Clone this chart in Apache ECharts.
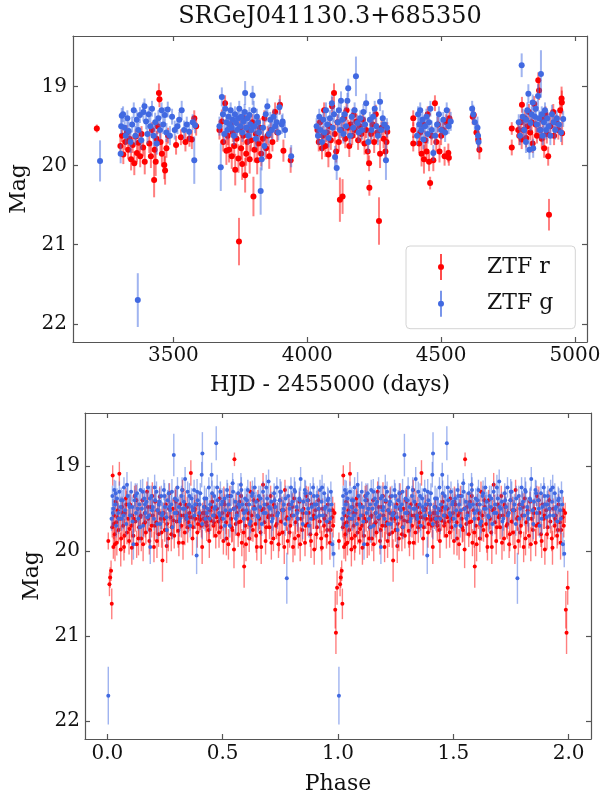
<!DOCTYPE html>
<html>
<head>
<meta charset="utf-8">
<script src="https://cdn.jsdelivr.net/npm/echarts@6/dist/echarts.min.js"></script>
<style>html,body{margin:0;padding:0;background:#fff}#c{width:608px;height:796px}</style>
</head>
<body>
<div id="c"></div>
<script>
// ---------- DATA ----------
const titleText = 'SRGeJ041130.3+685350';
const hjdTicks = [3500, 4000, 4500, 5000];
const magTicks = [19, 20, 21, 22];
const phaseTicks = [0, 0.5, 1, 1.5, 2];

// light curve, ZTF r: [HJD-2455000, mag, err]
const lcR = [
[3214,19.53,0.05],
[3302,19.75,0.10],[3308,19.62,0.08],[3313,19.86,0.12],[3320,19.70,0.10],[3326,19.58,0.09],[3331,19.80,0.12],[3336,19.66,0.10],[3342,19.92,0.14],[3348,19.74,0.10],[3354,19.97,0.15],[3359,19.63,0.09],[3364,19.84,0.12],[3370,19.71,0.10],[3376,19.88,0.14],[3381,19.60,0.10],[3387,19.77,0.11],[3393,19.95,0.16],
[3410,19.72,0.12],[3416,19.88,0.15],[3420,19.55,0.10],[3428,20.18,0.22],[3430,19.80,0.14],[3434,19.95,0.18],[3437,19.66,0.10],[3441,19.50,0.10],[3446,19.08,0.12],[3448,19.16,0.10],[3452,19.70,0.12],[3457,19.85,0.16],[3466,19.99,0.18],[3469,20.06,0.18],[3474,19.78,0.12],[3480,19.62,0.10],
[3510,19.74,0.12],[3528,19.64,0.10],[3545,19.70,0.12],[3560,19.66,0.10],[3569,19.67,0.12],[3578,19.40,0.10],[3585,19.50,0.12],
[3672,19.55,0.12],[3681,19.44,0.15],[3686,19.70,0.12],[3693,19.21,0.10],[3698,19.81,0.18],[3703,19.62,0.12],[3708,19.80,0.16],[3713,19.48,0.10],[3718,19.88,0.16],[3722,19.58,0.12],[3727,19.75,0.14],[3731,20.05,0.20],[3736,19.66,0.12],[3743,19.91,0.18],[3745,20.96,0.30],[3749,19.52,0.10],[3753,19.78,0.14],[3757,19.98,0.20],[3761,19.62,0.12],[3765,19.40,0.10],[3768,20.12,0.22],[3772,19.85,0.15],[3776,19.70,0.12],[3780,19.55,0.10],[3785,19.92,0.18],[3790,19.68,0.14],[3795,19.45,0.10],[3799,20.39,0.25],[3803,19.80,0.16],[3808,19.60,0.12],[3813,19.93,0.18],[3818,19.72,0.14],[3823,19.52,0.12],[3828,19.85,0.16],[3834,19.66,0.12],[3840,19.40,0.10],[3846,19.78,0.14],[3852,19.62,0.12],[3858,19.88,0.16],[3864,19.55,0.10],[3870,19.70,0.12],[3880,19.32,0.12],[3888,19.58,0.12],[3898,19.23,0.12],[3911,19.81,0.14],[3938,19.93,0.16],
[4038,19.55,0.12],[4043,19.70,0.12],[4048,19.45,0.10],[4055,19.78,0.14],[4058,19.62,0.12],[4063,19.30,0.10],[4068,19.75,0.14],[4073,19.58,0.12],[4079,19.86,0.16],[4083,19.50,0.10],[4088,19.68,0.12],[4093,19.25,0.12],[4100,19.08,0.12],[4103,19.60,0.12],[4108,19.82,0.14],[4113,19.45,0.10],[4118,19.70,0.12],[4122,20.43,0.28],[4128,19.55,0.10],[4132,20.39,0.22],[4137,19.40,0.10],[4142,19.66,0.12],[4147,19.30,0.12],[4152,19.52,0.10],[4157,19.75,0.14],[4162,19.48,0.10],[4168,19.62,0.12],[4173,19.36,0.10],[4178,19.55,0.10],[4184,19.44,0.10],[4190,19.68,0.12],[4196,19.50,0.10],[4202,19.60,0.12],[4208,19.42,0.10],[4214,19.72,0.14],[4220,19.55,0.10],[4226,19.82,0.16],[4231,19.97,0.10],[4232,20.28,0.10],[4238,19.60,0.12],[4244,19.48,0.10],[4250,19.70,0.14],[4256,19.35,0.12],[4262,19.58,0.12],[4268,20.70,0.30],[4272,19.85,0.18],[4278,19.52,0.10],[4285,19.66,0.12],[4292,19.82,0.10],[4296,19.70,0.12],[4299,19.57,0.12],
[4396,19.40,0.10],[4396,19.55,0.10],[4396,19.72,0.10],[4418,19.72,0.12],[4422,19.58,0.10],[4427,19.85,0.16],[4434,19.48,0.10],[4436,19.92,0.18],[4441,19.68,0.12],[4446,19.82,0.14],[4450,19.35,0.10],[4455,19.95,0.12],[4459,20.22,0.08],[4464,19.62,0.12],[4471,19.93,0.14],[4477,19.21,0.10],[4482,19.70,0.12],[4488,19.48,0.10],[4494,19.82,0.14],[4500,19.62,0.12],[4507,19.55,0.10],[4513,19.88,0.12],[4519,19.45,0.10],[4527,19.84,0.12],[4529,19.90,0.10],[4531,19.40,0.12],
[4618,19.38,0.10],[4622,19.36,0.10],[4632,19.58,0.12],[4639,19.67,0.12],[4643,19.80,0.12],
[4764,19.53,0.08],[4764,19.77,0.10],[4788,19.55,0.10],[4792,19.62,0.12],[4798,19.45,0.10],[4801,19.67,0.12],[4802,19.23,0.10],[4808,19.55,0.10],[4813,19.40,0.10],[4818,19.65,0.12],[4823,19.50,0.10],[4828,19.32,0.10],[4833,19.58,0.10],[4838,19.45,0.12],[4842,19.72,0.12],[4848,19.22,0.10],[4853,19.48,0.12],[4858,19.62,0.10],[4863,18.92,0.10],[4866,19.05,0.12],[4870,19.55,0.12],[4876,19.66,0.12],[4880,19.42,0.10],[4885,19.78,0.12],[4890,19.35,0.10],[4895,19.60,0.12],[4900,19.88,0.12],[4903,20.62,0.20],[4908,19.50,0.12],[4919,19.32,0.10],[4922,19.62,0.12],[4930,19.45,0.10],[4938,19.55,0.12],[4945,19.30,0.12],[4950,19.15,0.15],[4951,19.20,0.15],[4952,19.59,0.15]
];

// light curve, ZTF g: [HJD-2455000, mag, err]
const lcG = [
[3226,19.94,0.26],[3367,21.70,0.34],
[3303,19.85,0.12],[3305,19.50,0.10],[3307,19.37,0.10],[3312,19.35,0.10],[3318,19.52,0.10],[3322,19.62,0.12],[3328,19.40,0.10],[3333,19.56,0.12],[3340,19.70,0.14],[3346,19.48,0.10],[3352,19.30,0.10],[3358,19.62,0.12],[3363,19.42,0.12],[3369,19.55,0.10],[3375,19.36,0.10],[3380,19.68,0.12],[3388,19.32,0.12],[3392,19.25,0.10],[3398,19.44,0.10],[3403,19.60,0.12],[3408,19.35,0.10],[3414,19.50,0.12],[3420,19.28,0.10],[3426,19.62,0.14],[3432,19.45,0.12],[3438,19.72,0.14],[3444,19.40,0.10],[3450,19.55,0.12],[3456,19.30,0.10],[3462,19.48,0.12],[3468,19.36,0.10],[3474,19.58,0.12],[3479,19.29,0.10],[3487,19.62,0.12],[3495,19.38,0.10],[3505,19.55,0.12],[3515,19.50,0.10],[3522,19.42,0.10],[3531,19.30,0.12],[3540,19.55,0.12],[3550,19.48,0.10],[3559,19.57,0.12],[3572,19.45,0.10],[3578,19.93,0.30],[3581,19.49,0.10],
[3672,19.50,0.12],[3677,20.02,0.30],[3681,19.13,0.12],[3685,19.35,0.10],[3690,19.60,0.12],[3694,19.28,0.10],[3698,19.45,0.10],[3702,19.55,0.12],[3706,19.38,0.10],[3710,19.48,0.10],[3714,19.30,0.10],[3718,19.52,0.12],[3722,19.42,0.10],[3726,19.62,0.12],[3730,19.35,0.10],[3734,19.46,0.10],[3738,19.55,0.10],[3742,19.40,0.10],[3746,19.28,0.10],[3750,19.50,0.10],[3754,19.38,0.10],[3758,19.58,0.12],[3762,19.44,0.10],[3766,19.32,0.10],[3768,19.08,0.15],[3772,19.52,0.10],[3776,19.40,0.10],[3780,19.62,0.12],[3784,19.36,0.10],[3788,19.48,0.10],[3792,19.55,0.10],[3796,19.11,0.12],[3800,19.30,0.12],[3804,19.50,0.10],[3808,19.66,0.12],[3812,19.38,0.10],[3816,19.45,0.10],[3820,19.58,0.12],[3826,20.32,0.30],[3830,19.92,0.14],[3835,19.52,0.10],[3840,19.75,0.14],[3845,19.35,0.10],[3851,19.25,0.10],[3856,19.60,0.12],[3862,19.42,0.10],[3868,19.55,0.12],[3874,19.38,0.10],[3880,19.50,0.10],[3886,19.45,0.12],[3892,19.58,0.10],[3896,19.26,0.10],[3905,19.48,0.12],[3908,19.44,0.10],[3917,19.55,0.10],[3940,19.88,0.14],
[4035,19.50,0.10],[4040,19.62,0.12],[4045,19.38,0.10],[4050,19.55,0.10],[4055,19.70,0.12],[4060,19.42,0.10],[4065,19.58,0.12],[4070,19.30,0.10],[4075,19.48,0.10],[4080,19.65,0.12],[4085,19.40,0.10],[4092,19.21,0.10],[4095,19.52,0.12],[4100,19.35,0.10],[4104,19.89,0.14],[4110,20.03,0.15],[4114,19.45,0.10],[4118,19.30,0.10],[4122,19.55,0.12],[4126,19.18,0.12],[4130,19.42,0.10],[4135,19.60,0.12],[4140,19.35,0.10],[4145,19.50,0.10],[4150,19.18,0.10],[4153,19.02,0.12],[4160,19.62,0.12],[4166,19.38,0.10],[4172,19.52,0.12],[4177,19.30,0.10],[4182,18.87,0.25],[4187,19.46,0.10],[4192,19.58,0.12],[4198,19.40,0.10],[4204,19.55,0.12],[4210,19.32,0.10],[4216,19.48,0.10],[4220,19.21,0.12],[4228,19.70,0.14],[4234,19.42,0.10],[4240,19.55,0.12],[4246,19.38,0.10],[4252,19.28,0.10],[4258,19.50,0.12],[4264,19.62,0.12],[4272,19.19,0.12],[4276,19.55,0.10],[4282,19.40,0.10],[4288,19.48,0.10],[4294,19.93,0.25],[4298,19.52,0.12],
[4410,19.62,0.12],[4414,19.35,0.10],[4418,19.48,0.10],[4422,19.30,0.10],[4426,19.55,0.12],[4430,19.42,0.10],[4434,19.67,0.12],[4440,19.50,0.10],[4445,19.38,0.10],[4450,19.60,0.12],[4455,19.45,0.10],[4460,19.28,0.10],[4465,19.55,0.12],[4471,19.84,0.10],[4478,19.62,0.12],[4485,19.48,0.10],[4492,19.35,0.10],[4500,19.55,0.12],[4508,19.42,0.10],[4515,19.58,0.12],[4521,19.30,0.10],[4528,19.50,0.10],[4536,19.44,0.12],
[4616,19.28,0.10],[4620,19.35,0.12],[4626,19.45,0.10],[4636,19.52,0.14],[4638,19.62,0.15],[4640,19.70,0.12],
[4790,19.45,0.10],[4795,19.62,0.12],[4801,18.73,0.15],[4805,19.38,0.10],[4810,19.55,0.12],[4817,19.70,0.14],[4818,19.42,0.10],[4822,19.30,0.10],[4826,19.09,0.12],[4830,19.80,0.12],[4834,19.46,0.10],[4838,19.35,0.10],[4842,19.20,0.10],[4844,19.78,0.12],[4850,19.38,0.10],[4854,19.28,0.10],[4858,19.48,0.10],[4862,19.12,0.15],[4866,19.40,0.10],[4870,19.55,0.12],[4873,18.84,0.30],[4876,19.35,0.10],[4880,19.62,0.12],[4884,19.45,0.10],[4888,19.30,0.10],[4892,19.55,0.12],[4897,19.40,0.10],[4902,19.50,0.10],[4908,19.62,0.12],[4914,19.35,0.12],[4920,19.45,0.10],[4926,19.55,0.12],[4932,19.40,0.10],[4940,19.48,0.10],[4948,19.58,0.12],[4956,19.41,0.10]
];

// phase-folded, ZTF r: [phase, mag, err]
const phR = [
[0.004,19.88,0.10],[0.009,20.39,0.14],[0.012,20.31,0.12],[0.016,20.23,0.12],[0.019,20.62,0.18],[0.021,19.72,0.12],[0.023,19.11,0.12],[0.026,19.95,0.14],[0.029,19.58,0.12],[0.032,19.80,0.14],[0.035,19.42,0.12],[0.038,19.66,0.12],[0.041,19.90,0.15],[0.045,19.52,0.12],[0.049,19.75,0.14],[0.052,19.09,0.14],[0.056,19.62,0.12],[0.060,19.85,0.15],[0.064,19.48,0.12],[0.068,19.70,0.14],[0.072,19.95,0.16],[0.076,19.55,0.12],[0.080,19.38,0.12],[0.085,19.78,0.14],[0.090,19.62,0.12],[0.094,19.88,0.16],[0.099,19.45,0.12],[0.104,19.70,0.14],[0.108,19.58,0.12],[0.113,19.82,0.15],[0.118,19.35,0.12],[0.122,19.65,0.12],[0.127,19.92,0.16],[0.132,19.50,0.12],[0.137,19.72,0.14],[0.142,19.60,0.12],[0.147,19.85,0.15],[0.152,19.40,0.12],[0.157,19.68,0.14],[0.162,19.55,0.12],[0.167,19.78,0.14],[0.172,19.30,0.12],[0.177,19.62,0.12],[0.182,19.88,0.16],[0.187,19.48,0.12],[0.192,19.70,0.14],[0.197,19.58,0.12],[0.202,19.95,0.18],[0.207,19.42,0.12],[0.212,19.66,0.14],[0.217,19.52,0.12],[0.222,19.80,0.15],[0.227,19.36,0.12],[0.232,19.62,0.12],[0.239,20.11,0.25],[0.244,19.55,0.12],[0.249,19.75,0.14],[0.254,19.45,0.12],[0.259,19.68,0.14],[0.264,19.85,0.15],[0.269,19.32,0.12],[0.274,19.60,0.12],[0.279,19.72,0.14],[0.284,19.50,0.12],[0.290,19.82,0.15],[0.295,19.40,0.12],[0.300,19.65,0.14],[0.305,19.55,0.12],[0.310,19.90,0.16],[0.316,19.45,0.12],[0.321,19.70,0.14],[0.326,19.28,0.12],[0.331,19.58,0.12],[0.336,19.78,0.15],[0.341,19.62,0.12],[0.346,19.48,0.12],[0.351,19.66,0.12],[0.356,19.55,0.12],[0.362,19.08,0.15],[0.367,19.60,0.12],[0.372,19.72,0.14],[0.377,19.52,0.12],[0.382,19.62,0.12],[0.388,19.45,0.12],[0.393,19.68,0.12],[0.398,19.58,0.12],[0.403,19.63,0.12],[0.408,19.70,0.14],[0.413,19.55,0.12],[0.418,19.62,0.12],[0.423,19.48,0.12],[0.428,19.66,0.12],[0.434,19.60,0.12],[0.439,19.75,0.14],[0.444,19.52,0.12],[0.449,19.64,0.12],[0.455,19.42,0.12],[0.460,19.70,0.14],[0.465,19.58,0.12],[0.470,19.82,0.15],[0.476,19.50,0.12],[0.481,19.65,0.12],[0.487,19.38,0.12],[0.492,19.72,0.14],[0.498,19.55,0.12],[0.503,19.88,0.16],[0.509,19.45,0.12],[0.514,19.66,0.14],[0.520,19.58,0.12],[0.525,19.92,0.18],[0.531,19.35,0.12],[0.536,19.62,0.12],[0.542,19.75,0.14],[0.547,19.50,0.12],[0.551,18.92,0.08],[0.556,19.68,0.14],[0.562,19.55,0.12],[0.567,19.80,0.15],[0.572,19.42,0.12],[0.578,19.65,0.14],[0.583,19.90,0.16],[0.588,19.52,0.12],[0.593,20.18,0.25],[0.598,19.70,0.14],[0.604,19.45,0.12],[0.609,19.62,0.12],[0.615,19.85,0.16],[0.620,19.30,0.12],[0.626,19.58,0.12],[0.631,19.75,0.14],[0.637,19.48,0.12],[0.642,19.68,0.14],[0.648,19.95,0.16],[0.653,19.40,0.12],[0.659,19.62,0.12],[0.664,19.78,0.15],[0.670,19.52,0.12],[0.675,19.22,0.14],[0.681,19.66,0.14],[0.686,19.88,0.16],[0.692,19.45,0.12],[0.697,19.60,0.12],[0.703,19.72,0.14],[0.708,19.35,0.12],[0.714,19.58,0.12],[0.720,19.85,0.15],[0.725,19.48,0.12],[0.731,19.70,0.14],[0.737,19.55,0.12],[0.742,19.92,0.16],[0.748,19.40,0.12],[0.753,19.65,0.14],[0.759,19.78,0.15],[0.765,19.52,0.12],[0.770,19.28,0.12],[0.776,19.62,0.14],[0.782,19.88,0.16],[0.787,19.45,0.12],[0.793,19.70,0.14],[0.799,19.58,0.12],[0.805,19.95,0.18],[0.810,19.38,0.12],[0.816,19.66,0.14],[0.822,19.52,0.12],[0.828,19.82,0.15],[0.833,19.42,0.12],[0.839,19.62,0.12],[0.845,19.75,0.14],[0.851,19.50,0.12],[0.857,19.90,0.16],[0.862,19.35,0.12],[0.868,19.68,0.14],[0.874,19.55,0.12],[0.880,19.80,0.15],[0.886,19.45,0.12],[0.892,19.62,0.12],[0.897,19.98,0.18],[0.903,19.52,0.12],[0.909,19.72,0.14],[0.915,19.40,0.12],[0.921,19.65,0.14],[0.927,19.85,0.15],[0.933,19.50,0.12],[0.939,19.70,0.14],[0.944,19.58,0.12],[0.950,19.82,0.15],[0.956,19.45,0.12],[0.962,19.66,0.12],[0.968,19.75,0.14],[0.974,19.60,0.12],[0.979,19.70,0.14],[0.985,19.55,0.12],[0.988,20.69,0.22],[0.991,20.96,0.25],[0.996,20.43,0.20],
[0.027,19.68,0.18],[0.033,19.92,0.20],[0.044,19.60,0.18],[0.058,19.98,0.20],[0.066,19.55,0.16],[0.074,19.82,0.20],[0.083,19.45,0.16],[0.096,19.74,0.18],[0.106,19.96,0.20],[0.115,19.62,0.16],[0.125,19.40,0.18],[0.135,19.85,0.20],[0.145,19.58,0.16],[0.155,19.92,0.20],[0.164,19.66,0.18],[0.175,19.48,0.16],[0.185,19.75,0.20],[0.195,19.35,0.16],[0.205,19.70,0.18],[0.215,19.88,0.20],[0.225,19.55,0.16],[0.235,19.78,0.18],[0.247,19.62,0.16],[0.257,19.94,0.20],[0.267,19.50,0.18],[0.277,19.80,0.20],[0.287,19.64,0.16],[0.297,19.42,0.18],[0.307,19.76,0.20],[0.318,19.58,0.16],[0.328,19.90,0.20],[0.338,19.45,0.16],[0.348,19.72,0.18],[0.358,19.60,0.16],[0.369,19.85,0.20],[0.379,19.50,0.16],[0.390,19.78,0.18],[0.400,19.62,0.16],[0.411,19.95,0.20],[0.421,19.55,0.16],[0.431,19.70,0.18],[0.442,19.88,0.20],[0.452,19.48,0.16],[0.462,19.66,0.18],[0.473,19.60,0.16],[0.484,19.78,0.18],[0.494,19.62,0.16],[0.505,19.42,0.18],[0.516,19.85,0.20],[0.527,19.55,0.16],[0.539,19.72,0.18],[0.549,19.98,0.22],[0.559,19.48,0.16],[0.570,19.66,0.18],[0.580,19.35,0.16],[0.591,19.78,0.18],[0.601,19.92,0.20],[0.612,19.55,0.16],[0.623,19.70,0.18],[0.634,19.40,0.16],[0.645,19.82,0.20],[0.656,19.60,0.16],[0.667,19.95,0.20],[0.678,19.50,0.16],[0.689,19.72,0.18],[0.700,19.58,0.16],[0.711,19.90,0.20],[0.722,19.45,0.16],[0.734,19.68,0.18],[0.745,19.80,0.20],[0.756,19.52,0.16],[0.767,19.95,0.20],[0.779,19.60,0.16],[0.790,19.78,0.18],[0.802,19.48,0.16],[0.813,19.85,0.20],[0.825,19.62,0.16],[0.836,19.92,0.20],[0.848,19.55,0.16],[0.859,19.70,0.18],[0.871,19.40,0.16],[0.883,19.88,0.20],[0.895,19.58,0.16],[0.906,19.80,0.18],[0.918,19.50,0.16],[0.930,19.96,0.20],[0.941,19.62,0.16],[0.953,19.75,0.18],[0.965,19.90,0.20],[0.977,19.52,0.16]
];

// phase-folded, ZTF g: [phase, mag, err]
const phG = [
[0.004,21.70,0.34],[0.018,19.62,0.14],[0.022,19.35,0.12],[0.026,19.50,0.12],[0.030,19.28,0.12],[0.034,19.45,0.12],[0.038,19.70,0.14],[0.042,19.38,0.12],[0.047,19.55,0.12],[0.052,19.30,0.12],[0.057,19.48,0.12],[0.062,19.62,0.14],[0.067,19.40,0.12],[0.072,19.25,0.12],[0.077,19.52,0.12],[0.082,19.68,0.14],[0.088,19.35,0.12],[0.093,19.45,0.12],[0.098,19.58,0.12],[0.103,19.30,0.12],[0.108,19.48,0.12],[0.113,19.92,0.18],[0.118,19.40,0.12],[0.124,19.55,0.12],[0.129,19.32,0.12],[0.134,19.62,0.14],[0.139,19.45,0.12],[0.144,19.28,0.12],[0.150,19.50,0.12],[0.155,19.70,0.14],[0.160,19.38,0.12],[0.165,19.55,0.12],[0.170,19.42,0.12],[0.176,19.25,0.12],[0.181,19.58,0.12],[0.186,19.95,0.20],[0.191,19.35,0.12],[0.197,19.48,0.12],[0.202,19.62,0.14],[0.207,19.40,0.12],[0.213,19.30,0.12],[0.218,19.52,0.12],[0.223,19.45,0.12],[0.229,19.68,0.14],[0.234,19.35,0.12],[0.239,19.55,0.12],[0.245,19.28,0.12],[0.250,19.48,0.12],[0.256,19.60,0.14],[0.261,19.40,0.12],[0.266,19.32,0.12],[0.272,19.52,0.12],[0.277,19.45,0.12],[0.282,19.72,0.14],[0.288,18.87,0.25],[0.293,19.38,0.12],[0.299,19.55,0.12],[0.304,19.25,0.12],[0.310,19.48,0.12],[0.315,19.62,0.14],[0.321,19.35,0.12],[0.326,19.50,0.12],[0.332,19.42,0.12],[0.337,19.15,0.14],[0.343,19.58,0.12],[0.348,19.30,0.12],[0.354,19.45,0.12],[0.359,19.70,0.14],[0.365,19.38,0.12],[0.370,19.52,0.12],[0.376,19.28,0.12],[0.381,19.45,0.12],[0.387,20.05,0.22],[0.392,19.40,0.12],[0.398,19.55,0.12],[0.403,19.32,0.12],[0.409,19.10,0.15],[0.412,18.85,0.25],[0.418,19.48,0.12],[0.424,19.62,0.14],[0.429,19.38,0.12],[0.435,19.50,0.12],[0.440,19.25,0.12],[0.446,19.45,0.12],[0.452,19.10,0.14],[0.458,19.58,0.12],[0.463,19.35,0.12],[0.469,19.48,0.12],[0.472,18.73,0.20],[0.478,19.40,0.12],[0.484,19.55,0.12],[0.490,19.30,0.12],[0.496,19.45,0.12],[0.502,19.62,0.14],[0.508,19.38,0.12],[0.513,19.52,0.12],[0.519,19.28,0.12],[0.525,19.45,0.12],[0.531,19.70,0.14],[0.537,19.35,0.12],[0.543,19.20,0.12],[0.549,19.50,0.12],[0.555,19.42,0.12],[0.561,19.58,0.12],[0.567,19.32,0.12],[0.573,19.48,0.12],[0.579,19.22,0.14],[0.585,19.45,0.12],[0.591,19.62,0.14],[0.597,19.38,0.12],[0.603,19.52,0.12],[0.609,19.28,0.12],[0.615,19.45,0.12],[0.621,19.65,0.14],[0.627,19.35,0.12],[0.633,19.50,0.12],[0.639,19.25,0.12],[0.645,19.42,0.12],[0.651,19.58,0.12],[0.657,19.35,0.12],[0.663,19.48,0.12],[0.669,19.68,0.14],[0.675,19.30,0.12],[0.681,19.45,0.12],[0.687,19.55,0.12],[0.693,19.38,0.12],[0.699,19.18,0.14],[0.705,19.50,0.12],[0.711,19.42,0.12],[0.717,19.62,0.14],[0.723,19.32,0.12],[0.729,19.48,0.12],[0.735,19.25,0.12],[0.741,19.55,0.12],[0.747,19.40,0.12],[0.753,19.30,0.12],[0.759,19.52,0.12],[0.765,19.45,0.12],[0.771,19.68,0.14],[0.778,20.32,0.30],[0.784,19.35,0.12],[0.790,19.50,0.12],[0.796,19.25,0.12],[0.802,19.42,0.12],[0.808,19.58,0.12],[0.814,19.30,0.12],[0.820,19.48,0.12],[0.826,19.62,0.14],[0.832,19.38,0.12],[0.838,19.15,0.14],[0.844,19.52,0.12],[0.850,19.42,0.12],[0.856,19.28,0.12],[0.862,19.55,0.12],[0.868,19.40,0.12],[0.874,19.70,0.14],[0.880,19.32,0.12],[0.886,19.48,0.12],[0.892,19.25,0.12],[0.898,19.45,0.12],[0.904,19.60,0.14],[0.910,19.35,0.12],[0.916,19.50,0.12],[0.922,19.28,0.12],[0.928,19.42,0.12],[0.934,19.58,0.12],[0.940,19.32,0.12],[0.946,19.48,0.12],[0.952,19.65,0.14],[0.958,19.38,0.12],[0.963,19.52,0.12],[0.969,19.30,0.12],[0.975,19.92,0.14],[0.981,20.03,0.16],
[0.024,19.55,0.16],[0.036,19.32,0.15],[0.049,19.62,0.18],[0.060,19.40,0.15],[0.070,19.58,0.16],[0.085,19.22,0.15],[0.096,19.48,0.16],[0.110,19.65,0.18],[0.121,19.35,0.15],[0.132,19.50,0.16],[0.142,19.72,0.18],[0.153,19.30,0.15],[0.163,19.45,0.16],[0.174,19.60,0.18],[0.184,19.38,0.15],[0.194,19.52,0.16],[0.205,19.25,0.15],[0.216,19.68,0.18],[0.226,19.42,0.16],[0.237,19.58,0.16],[0.248,19.35,0.15],[0.258,19.75,0.20],[0.269,19.48,0.16],[0.280,19.30,0.15],[0.291,19.55,0.16],[0.302,19.40,0.16],[0.313,19.65,0.18],[0.324,19.28,0.15],[0.334,19.50,0.16],[0.345,19.62,0.18],[0.356,19.35,0.15],[0.367,19.48,0.16],[0.378,19.58,0.16],[0.389,19.30,0.15],[0.400,19.45,0.16],[0.411,19.68,0.18],[0.421,19.38,0.15],[0.432,19.55,0.16],[0.443,19.62,0.18],[0.454,19.32,0.15],[0.465,19.50,0.16],[0.476,19.25,0.15],[0.487,19.58,0.16],[0.498,19.42,0.16],[0.510,19.70,0.18],[0.521,19.35,0.15],[0.533,19.52,0.16],[0.545,19.30,0.15],[0.557,19.62,0.18],[0.569,19.45,0.16],[0.581,19.28,0.15],[0.593,19.55,0.16],[0.605,19.40,0.16],[0.617,19.68,0.18],[0.629,19.32,0.15],[0.641,19.50,0.16],[0.653,19.60,0.18],[0.665,19.38,0.15],[0.677,19.55,0.16],[0.689,19.25,0.15],[0.701,19.48,0.16],[0.713,19.65,0.18],[0.725,19.40,0.16],[0.737,19.58,0.16],[0.749,19.30,0.15],[0.761,19.52,0.16],[0.773,19.38,0.15],[0.786,19.62,0.18],[0.798,19.45,0.16],[0.811,19.28,0.15],[0.823,19.55,0.16],[0.835,19.40,0.16],[0.847,19.68,0.18],[0.859,19.32,0.15],[0.871,19.50,0.16],[0.883,19.62,0.18],[0.895,19.35,0.15],[0.907,19.45,0.16],[0.919,19.58,0.16],[0.931,19.25,0.15],[0.943,19.50,0.16],[0.955,19.40,0.16],[0.966,19.62,0.18],[0.972,19.45,0.16]
];

// ---------- STYLE ----------
const SERIF = 'DejaVu Serif';
const RED = '#ff0000', BLUE = '#4169e1';
const AX = '#555', TXT = '#111';

const twoCycles = arr => arr.concat(arr.map(d => [d[0] + 1, d[1], d[2]]));

function errSeries(name, data, color, xi, yi, w, z) {
  return {
    type: 'custom', name: name, xAxisIndex: xi, yAxisIndex: yi, silent: true, z: z,
    data: data.map(d => [d[0], d[1] - d[2], d[1] + d[2]]),
    encode: { x: 0, y: [1, 2] },
    renderItem: function (params, api) {
      const a = api.coord([api.value(0), api.value(1)]);
      const b = api.coord([api.value(0), api.value(2)]);
      return { type: 'line', shape: { x1: a[0], y1: a[1], x2: b[0], y2: b[1] },
               style: { stroke: color, lineWidth: w, opacity: 0.5 } };
    }
  };
}
function ptSeries(name, data, color, xi, yi, size, z) {
  return {
    type: 'scatter', name: name, xAxisIndex: xi, yAxisIndex: yi, z: z, silent: true,
    symbol: 'circle', symbolSize: size,
    itemStyle: { color: color, opacity: 1 },
    data: data.map(d => [d[0], d[1]])
  };
}
const axLine = { show: true, onZero: false, lineStyle: { color: AX, width: 1.2 } };
const tick = vals => ({ show: true, inside: true, length: 5, customValues: vals, lineStyle: { color: AX, width: 1.2 } });
const labelStyle = { fontFamily: SERIF, fontSize: 20, color: TXT };
const nameStyle = { fontFamily: SERIF, fontSize: 22, color: TXT };

const legendIcon = 'path://M3.3,0H4.7V26H3.3Z M7,13A3,3 0 1 1 1,13A3,3 0 1 1 7,13Z';

const option = {
  animation: false,
  backgroundColor: '#fff',
  title: {
    text: titleText, left: 330, top: 5, textAlign: 'center', padding: 0,
    textStyle: { fontFamily: SERIF, fontSize: 24, fontWeight: 'normal', color: TXT }
  },
  legend: {
    data: [{ name: 'ZTF r', icon: legendIcon }, { name: 'ZTF g', icon: legendIcon }],
    orient: 'vertical', left: 406, top: 246,
    itemWidth: 8, itemHeight: 26, itemGap: 10.7,
    padding: [8, 22, 12, 32],
    backgroundColor: 'rgba(255,255,255,0.85)', borderColor: '#d4d4d4', borderWidth: 1, borderRadius: 4,
    selectedMode: false,
    formatter: n => '{t|' + n + '}',
    textStyle: { fontFamily: SERIF, fontSize: 22, color: TXT,
      rich: { t: { fontFamily: SERIF, fontSize: 22, color: TXT, padding: [0, 0, 0, 37] } } }
  },
  grid: [
    { left: 73, top: 36, width: 514, height: 306 },
    { left: 85, top: 413, width: 506, height: 326 }
  ],
  xAxis: [
    { gridIndex: 0, type: 'value', position: 'bottom', min: 3125, max: 5045,
      axisLine: axLine, axisTick: tick(hjdTicks), splitLine: { show: false },
      axisLabel: Object.assign({ customValues: hjdTicks, margin: 4, formatter: v => String(v) }, labelStyle),
      name: 'HJD - 2455000 (days)', nameLocation: 'middle', nameGap: 32, nameTextStyle: nameStyle },
    { gridIndex: 0, type: 'value', position: 'top', min: 3125, max: 5045,
      axisLine: axLine, axisTick: tick(hjdTicks), splitLine: { show: false }, axisLabel: { show: false } },
    { gridIndex: 1, type: 'value', position: 'bottom', min: -0.097, max: 2.097,
      axisLine: axLine, axisTick: tick(phaseTicks), splitLine: { show: false },
      axisLabel: Object.assign({ customValues: phaseTicks, margin: 5, formatter: v => Number(v).toFixed(1) }, labelStyle),
      name: 'Phase', nameLocation: 'middle', nameGap: 34, nameTextStyle: nameStyle },
    { gridIndex: 1, type: 'value', position: 'top', min: -0.097, max: 2.097,
      axisLine: axLine, axisTick: tick(phaseTicks), splitLine: { show: false }, axisLabel: { show: false } }
  ],
  yAxis: [
    { gridIndex: 0, type: 'value', position: 'left', inverse: true, min: 18.36, max: 22.23,
      axisLine: axLine, axisTick: tick(magTicks), splitLine: { show: false },
      axisLabel: Object.assign({ customValues: magTicks, margin: 6 }, labelStyle),
      name: 'Mag', nameLocation: 'middle', nameRotate: 90, nameGap: 41, nameTextStyle: nameStyle },
    { gridIndex: 0, type: 'value', position: 'right', inverse: true, min: 18.36, max: 22.23,
      axisLine: axLine, axisTick: tick(magTicks), splitLine: { show: false }, axisLabel: { show: false } },
    { gridIndex: 1, type: 'value', position: 'left', inverse: true, min: 18.375, max: 22.21,
      axisLine: axLine, axisTick: tick(magTicks), splitLine: { show: false },
      axisLabel: Object.assign({ customValues: magTicks, margin: 5 }, labelStyle),
      name: 'Mag', nameLocation: 'middle', nameRotate: 90, nameGap: 41, nameTextStyle: nameStyle },
    { gridIndex: 1, type: 'value', position: 'right', inverse: true, min: 18.375, max: 22.21,
      axisLine: axLine, axisTick: tick(magTicks), splitLine: { show: false }, axisLabel: { show: false } }
  ],
  series: [
    errSeries('r err', lcR, RED, 0, 0, 2, 2),
    ptSeries('ZTF r', lcR, RED, 0, 0, 6, 3),
    errSeries('g err', lcG, BLUE, 0, 0, 2, 4),
    ptSeries('ZTF g', lcG, BLUE, 0, 0, 6, 5),
    errSeries('r err ph', twoCycles(phR), RED, 2, 2, 1.4, 2),
    ptSeries('ZTF r', twoCycles(phR), RED, 2, 2, 4, 3),
    errSeries('g err ph', twoCycles(phG), BLUE, 2, 2, 1.4, 4),
    ptSeries('ZTF g', twoCycles(phG), BLUE, 2, 2, 4, 5)
  ]
};
const chart = echarts.init(document.getElementById('c'), null, { renderer: 'canvas' });
chart.setOption(option);
</script>
</body>
</html>
